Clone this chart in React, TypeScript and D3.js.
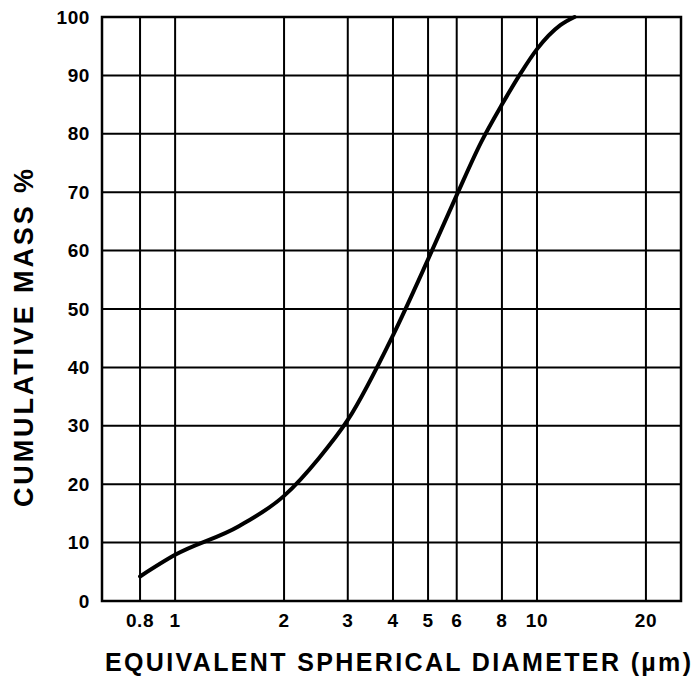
import { useEffect, useRef } from 'react'
import * as d3 from 'd3'

// size in µm, cumulative mass %
const sizes = [0.8, 1, 1.5, 2, 2.5, 3, 4, 5, 6, 7, 8, 9, 10, 11.6, 12.7]
const mass = [4.2, 7.9, 12.8, 18, 24.5, 31, 45.5, 58.5, 69.5, 78.5, 85, 90.3, 94.5, 98.6, 100]

const xTicks = [0.8, 1, 2, 3, 4, 5, 6, 8, 10, 20]
const yTicks = [0, 10, 20, 30, 40, 50, 60, 70, 80, 90, 100]

const W = 695
const H = 677
const FONT = '"Liberation Sans", Arial, sans-serif'

export default function App() {
  const ref = useRef<SVGSVGElement | null>(null)

  useEffect(() => {
    if (!ref.current) return
    const svg = d3.select(ref.current)
    svg.selectAll('*').remove()

    const left = 102
    const right = 681
    const top = 17
    const bottom = 601

    const x = d3.scaleLog().domain([0.628, 25]).range([left, right])
    const y = d3.scaleLinear().domain([0, 100]).range([bottom, top])

    const g = svg.append('g')

    // grid
    g.selectAll('line.v')
      .data(xTicks)
      .join('line')
      .attr('class', 'v')
      .attr('x1', (d) => x(d))
      .attr('x2', (d) => x(d))
      .attr('y1', top)
      .attr('y2', bottom)
      .attr('stroke', '#000')
      .attr('stroke-width', 2)

    g.selectAll('line.h')
      .data(yTicks)
      .join('line')
      .attr('class', 'h')
      .attr('x1', left)
      .attr('x2', right)
      .attr('y1', (d) => y(d))
      .attr('y2', (d) => y(d))
      .attr('stroke', '#000')
      .attr('stroke-width', 2)

    // frame
    g.append('rect')
      .attr('x', left)
      .attr('y', top)
      .attr('width', right - left)
      .attr('height', bottom - top)
      .attr('fill', 'none')
      .attr('stroke', '#000')
      .attr('stroke-width', 2.5)

    // tick labels
    g.selectAll('text.yt')
      .data(yTicks)
      .join('text')
      .attr('class', 'yt')
      .attr('x', 90)
      .attr('y', (d) => y(d))
      .attr('text-anchor', 'end')
      .attr('dominant-baseline', 'central')
      .attr('font-family', FONT)
      .attr('font-weight', 'bold')
      .attr('font-size', 19)
      .attr('letter-spacing', 0.6)
      .text((d) => d)

    g.selectAll('text.xt')
      .data(xTicks)
      .join('text')
      .attr('class', 'xt')
      .attr('x', (d) => x(d))
      .attr('y', 627)
      .attr('text-anchor', 'middle')
      .attr('font-family', FONT)
      .attr('font-weight', 'bold')
      .attr('font-size', 19)
      .attr('letter-spacing', 0.6)
      .text((d) => d)

    // curve
    const line = d3
      .line<number>()
      .x((d) => x(d))
      .y((_, i) => y(mass[i]))
      .curve(d3.curveMonotoneX)

    g.append('path')
      .attr('d', line(sizes) as string)
      .attr('fill', 'none')
      .attr('stroke', '#000')
      .attr('stroke-width', 4)
      .attr('stroke-linecap', 'round')

    // axis titles
    g.append('text')
      .attr('x', 105)
      .attr('y', 671)
      .attr('font-family', FONT)
      .attr('font-weight', 'bold')
      .attr('font-size', 25)
      .attr('textLength', 586)
      .attr('lengthAdjust', 'spacing')
      .text('EQUIVALENT SPHERICAL DIAMETER (µm)')

    g.append('text')
      .attr('transform', `translate(33,507) rotate(-90)`)
      .attr('font-family', FONT)
      .attr('font-weight', 'bold')
      .attr('font-size', 27)
      .attr('textLength', 338)
      .attr('lengthAdjust', 'spacing')
      .text('CUMULATIVE MASS %')
  }, [])

  return (
    <svg
      ref={ref}
      width={W}
      height={H}
      style={{ position: 'absolute', left: 0, top: 0, background: '#fff' }}
    />
  )
}
